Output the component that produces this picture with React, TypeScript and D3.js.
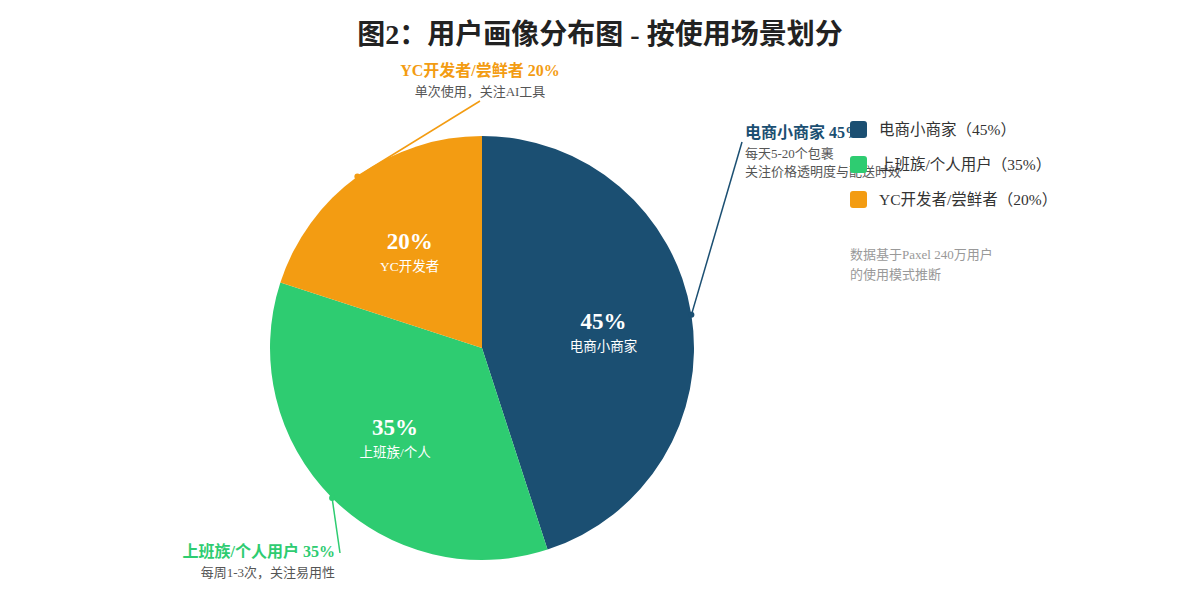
import * as d3 from 'd3';

// usage-scenario shares (percent)
const segments = ['电商小商家', '上班族/个人用户', 'YC开发者/尝鲜者'];
const shares = [45, 35, 20];
const sliceNames = ['电商小商家', '上班族/个人', 'YC开发者'];
const notes = [
  ['每天5-20个包裹', '关注价格透明度与配送时效'],
  ['每周1-3次，关注易用性'],
  ['单次使用，关注AI工具'],
];
const palette = ['#1B4F72', '#2ECC71', '#F39C12'];
const footnote = ['数据基于Paxel 240万用户', '的使用模式推断'];

const W = 1200;
const H = 600;
const FONT = "'Liberation Serif', 'Noto Sans CJK SC', serif";

// where each callout's text block sits, and where its leader line starts
const calloutLayout = [
  { x: 745, y: 138, anchor: 'start', lx: 742, ly: 142 },
  { x: 335, y: 557, anchor: 'end', lx: 340, ly: 553 },
  { x: 480, y: 76, anchor: 'middle', lx: 480, ly: 101 },
];

export default function App() {
  const cx = 482;
  const cy = 348;
  const r = 212;

  const rows = segments.map((name, i) => ({ name, value: shares[i], i }));
  const pie = d3.pie<(typeof rows)[number]>().value((d) => d.value).sort(null);
  const arcs = pie(rows);
  const arc = d3.arc<d3.PieArcDatum<(typeof rows)[number]>>().innerRadius(0).outerRadius(r);
  const labelArc = d3.arc<d3.PieArcDatum<(typeof rows)[number]>>().innerRadius(r * 0.58).outerRadius(r * 0.58);
  const edgeArc = d3.arc<d3.PieArcDatum<(typeof rows)[number]>>().innerRadius(r).outerRadius(r);

  const legendY = d3.scaleBand<number>().domain(rows.map((d) => d.i)).range([121, 226]);

  return (
    <svg
      width={W}
      height={H}
      viewBox={`0 0 ${W} ${H}`}
      style={{ position: 'absolute', left: 0, top: 0, background: '#fff', fontFamily: FONT }}
    >
      <text x={600} y={44} textAnchor="middle" fontSize={28} fontWeight="bold" fill="#222">
        图2：用户画像分布图 - 按使用场景划分
      </text>

      <g transform={`translate(${cx},${cy})`}>
        {arcs.map((a) => (
          <path key={a.data.name} d={arc(a) || ''} fill={palette[a.data.i]} />
        ))}
        {arcs.map((a) => {
          const [x, y] = labelArc.centroid(a);
          return (
            <g key={'l' + a.data.name} fill="#fff" textAnchor="middle">
              <text x={x} y={y} fontSize={23} fontWeight={600}>
                {a.data.value}%
              </text>
              <text x={x} y={y + 22} fontSize={13.5}>
                {sliceNames[a.data.i]}
              </text>
            </g>
          );
        })}
        {arcs.map((a) => {
          const [px, py] = edgeArc.centroid(a);
          const c = calloutLayout[a.data.i];
          return (
            <g key={'c' + a.data.name}>
              <line x1={c.lx - cx} y1={c.ly - cy} x2={px} y2={py} stroke={palette[a.data.i]} strokeWidth={1.5} />
              <circle cx={px} cy={py} r={3} fill={palette[a.data.i]} />
            </g>
          );
        })}
      </g>

      {rows.map((d) => {
        const c = calloutLayout[d.i];
        return (
          <g key={'t' + d.name} textAnchor={c.anchor}>
            <text x={c.x} y={c.y} fontSize={16} fontWeight="bold" fill={palette[d.i]}>
              {d.name} {d.value}%
            </text>
            {notes[d.i].map((n, k) => (
              <text key={k} x={c.x} y={c.y + 20 + k * 18} fontSize={13} fill="#555">
                {n}
              </text>
            ))}
          </g>
        );
      })}

      {rows.map((d) => {
        const y = legendY(d.i) || 0;
        return (
          <g key={'lg' + d.name}>
            <rect x={850} y={y} width={17} height={17} rx={3} fill={palette[d.i]} />
            <text x={879} y={y + 14} fontSize={15.5} fill="#333">
              {d.name}（{d.value}%）
            </text>
          </g>
        );
      })}

      {footnote.map((t, k) => (
        <text key={t} x={850} y={259 + k * 20} fontSize={13} fill="#999">
          {t}
        </text>
      ))}
    </svg>
  );
}
